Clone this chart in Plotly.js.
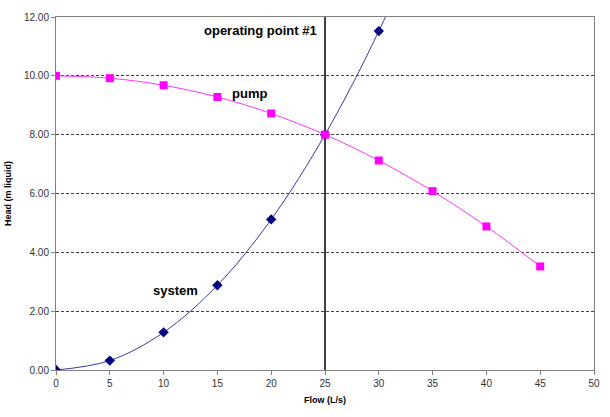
<!DOCTYPE html>
<html>
<head>
<meta charset="utf-8">
<script src="https://cdn.plot.ly/plotly-3.0.1.min.js"></script>
<style>
  html, body { margin: 0; padding: 0; background: #fff; }
  #grafico { width: 610px; height: 417px; }
</style>
</head>
<body>
<div id="grafico"></div>
<script>
// Pump curve and system curve, head (m liquid) vs flow (L/s)

var flowPump = [0, 5, 10, 15, 20, 25, 30, 35, 40, 45];
var headPump = [10.00, 9.92, 9.68, 9.28, 8.72, 8.00, 7.12, 6.08, 4.88, 3.52];

var flowSystem = [0, 5, 10, 15, 20, 25, 30, 35];
var headSystem = [0.00, 0.32, 1.28, 2.88, 5.12, 8.00, 11.52, 15.68];

var opFlow = [25, 25];
var opHead = [0, 12];

var xTicks = [0, 5, 10, 15, 20, 25, 30, 35, 40, 45, 50];
var yTicks = [0, 2, 4, 6, 8, 10, 12];
var yTickText = ["0.00", "2.00", "4.00", "6.00", "8.00", "10.00", "12.00"];

var dati = [
    {
        type: 'scatter',
        mode: 'lines',
        x: opFlow,
        y: opHead,
        line: { color: '#000000', width: 1.5 },
        hoverinfo: 'skip'
    },
    {
        type: 'scatter',
        mode: 'lines+markers',
        name: 'system',
        x: flowSystem,
        y: headSystem,
        line: { color: '#3a3a9a', width: 1, shape: 'spline' },
        marker: { symbol: 'diamond', size: 8, color: '#000080' }
    },
    {
        type: 'scatter',
        mode: 'lines+markers',
        name: 'pump',
        x: flowPump,
        y: headPump,
        line: { color: '#ff33ff', width: 1, shape: 'spline' },
        marker: { symbol: 'square', size: 8, color: '#ff00ff' }
    }
];

var fnt = { family: 'Liberation Sans, Arial, sans-serif' };

var layout = {
    width: 610,
    height: 417,
    margin: { l: 56, r: 16, t: 17, b: 47 },
    paper_bgcolor: '#ffffff',
    plot_bgcolor: '#ffffff',
    showlegend: false,
    font: { family: fnt.family, size: 10, color: '#333' },
    xaxis: {
        range: [0, 50],
        tickvals: xTicks,
        ticks: 'outside',
        ticklen: 4,
        tickcolor: '#808080',
        showgrid: false,
        zeroline: false,
        showline: true,
        linecolor: '#808080',
        mirror: true,
        tickfont: { size: 10, color: '#333' },
        title: { text: '<b>Flow (L/s)</b>', font: { size: 9, color: '#000' }, standoff: 8 }
    },
    yaxis: {
        range: [0, 12],
        tickvals: yTicks,
        ticktext: yTickText,
        ticks: 'outside',
        ticklen: 4,
        tickcolor: '#808080',
        showgrid: true,
        gridcolor: '#444444',
        griddash: '3px,2px',
        gridwidth: 1,
        zeroline: true,
        zerolinecolor: '#404040',
        zerolinewidth: 1,
        showline: true,
        linecolor: '#808080',
        mirror: true,
        tickfont: { size: 10, color: '#333' },
        title: { text: '<b>Head (m liquid)</b>', font: { size: 9, color: '#000' }, standoff: 10 }
    },
    annotations: [
        { x: 19.0, y: 11.55, xref: 'x', yref: 'y', text: '<b>operating point #1</b>', showarrow: false,
          font: { size: 13, color: '#000' } },
        { x: 18.0, y: 9.4, xref: 'x', yref: 'y', text: '<b>pump</b>', showarrow: false,
          font: { size: 13, color: '#000' } },
        { x: 11.1, y: 2.7, xref: 'x', yref: 'y', text: '<b>system</b>', showarrow: false,
          font: { size: 13, color: '#000' } }
    ]
};

Plotly.newPlot('grafico', dati, layout, { displayModeBar: false, staticPlot: true });
</script>
</body>
</html>
